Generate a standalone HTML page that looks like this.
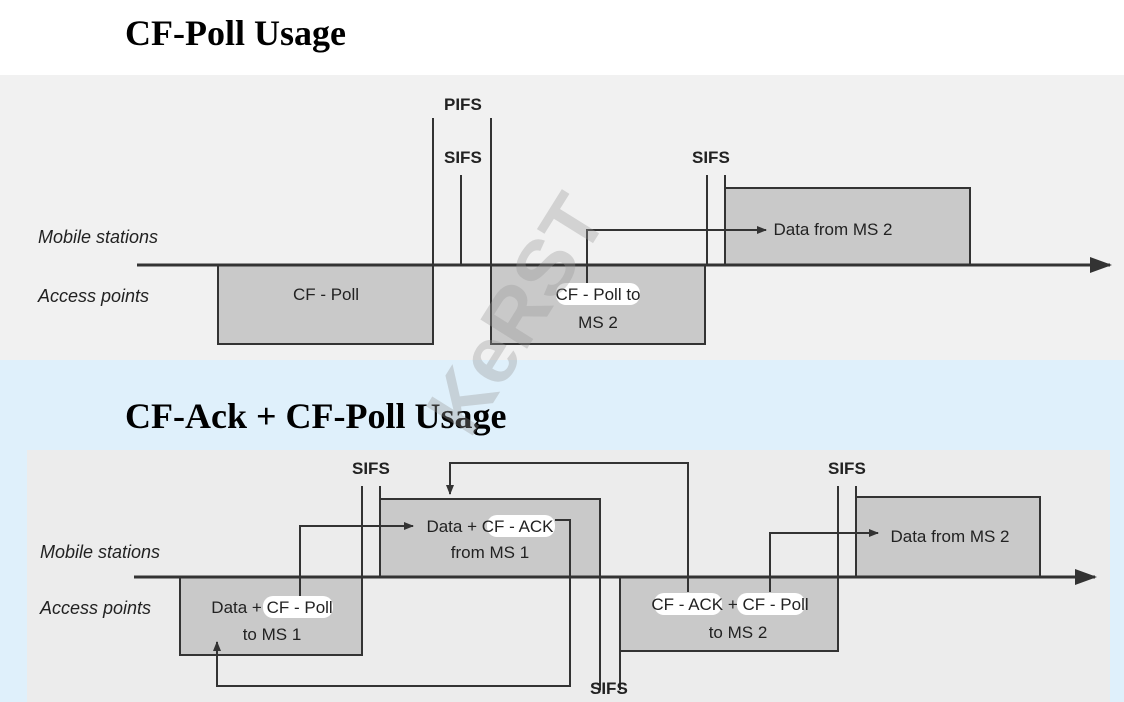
<!DOCTYPE html>
<html><head><meta charset="utf-8"><style>
html,body{margin:0;padding:0;width:1124px;height:702px;overflow:hidden;background:#fff}
</style></head><body>
<svg width="1124" height="702" viewBox="0 0 1124 702" xmlns="http://www.w3.org/2000/svg" font-family="Liberation Sans, sans-serif">
<defs>
<marker id="ah" markerWidth="10" markerHeight="10" refX="9" refY="5" orient="auto" markerUnits="userSpaceOnUse"><path d="M0,1 L10,5 L0,9 z" fill="#333"/></marker>
<marker id="big" markerWidth="22" markerHeight="16" refX="20" refY="8" orient="auto" markerUnits="userSpaceOnUse"><path d="M0,0 L22,8 L0,16 z" fill="#333"/></marker>
</defs>
<rect x="0" y="0" width="1124" height="75" fill="#fff"/>
<rect x="0" y="75" width="1124" height="285" fill="#f1f1f1"/>
<rect x="0" y="360" width="1124" height="342" fill="#dff0fb"/>
<rect x="27" y="450" width="1083" height="252" fill="#ececec"/>
<text x="125" y="45" font-family="Liberation Serif, serif" font-weight="bold" font-size="36" fill="#000">CF-Poll Usage</text>
<text x="125" y="428" font-family="Liberation Serif, serif" font-weight="bold" font-size="36" fill="#000">CF-Ack + CF-Poll Usage</text>

<g stroke="#333" stroke-width="2" fill="none">
<!-- top diagram -->
<rect x="218" y="265" width="215" height="79" fill="#c9c9c9"/>
<rect x="491" y="265" width="214" height="79" fill="#c9c9c9"/>
<rect x="725" y="188" width="245" height="77" fill="#c9c9c9"/>
<line x1="433" y1="118" x2="433" y2="265"/>
<line x1="491" y1="118" x2="491" y2="265"/>
<line x1="461" y1="175" x2="461" y2="265"/>
<line x1="707" y1="175" x2="707" y2="265"/>
<line x1="725" y1="175" x2="725" y2="188"/>
<line x1="137" y1="265" x2="1110" y2="265" stroke-width="3" marker-end="url(#big)"/>
<polyline points="587,305 587,230 766,230" marker-end="url(#ah)"/>
<!-- bottom diagram -->
<rect x="180" y="577" width="182" height="78" fill="#c9c9c9"/>
<rect x="380" y="499" width="220" height="78" fill="#c9c9c9"/>
<rect x="620" y="577" width="218" height="74" fill="#c9c9c9"/>
<rect x="856" y="497" width="184" height="80" fill="#c9c9c9"/>
<line x1="362" y1="486" x2="362" y2="577"/>
<line x1="380" y1="486" x2="380" y2="499"/>
<line x1="600" y1="577" x2="600" y2="690"/>
<line x1="620" y1="577" x2="620" y2="690"/>
<line x1="838" y1="486" x2="838" y2="577"/>
<line x1="856" y1="486" x2="856" y2="497"/>
<line x1="134" y1="577" x2="1095" y2="577" stroke-width="3" marker-end="url(#big)"/>
<polyline points="300,600 300,526 413,526" marker-end="url(#ah)"/>
<polyline points="555,520 570,520 570,686 217,686 217,642" marker-end="url(#ah)"/>
<polyline points="688,592 688,463 450,463 450,494" marker-end="url(#ah)"/>
<polyline points="770,592 770,533 878,533" marker-end="url(#ah)"/>
</g>

<g font-size="18" fill="#222" font-style="italic">
<text x="38" y="243">Mobile stations</text>
<text x="38" y="302">Access points</text>
<text x="40" y="558">Mobile stations</text>
<text x="40" y="614">Access points</text>
</g>
<g font-size="17" fill="#222" font-weight="bold">
<text x="444" y="110">PIFS</text>
<text x="444" y="163">SIFS</text>
<text x="692" y="163">SIFS</text>
<text x="352" y="474">SIFS</text>
<text x="828" y="474">SIFS</text>
<text x="590" y="694">SIFS</text>
</g>
<g font-size="17" fill="#222" text-anchor="middle">
<text x="326" y="300">CF - Poll</text>
<rect x="556" y="283" width="84" height="22" rx="10" fill="#fff"/>
<text x="598" y="300">CF - Poll to</text>
<text x="598" y="328">MS 2</text>
<text x="833" y="235">Data from MS 2</text>
<rect x="263" y="596" width="70" height="22" rx="10" fill="#fff"/>
<text x="272" y="613">Data + CF - Poll</text>
<text x="272" y="640">to MS 1</text>
<rect x="487" y="515" width="68" height="22" rx="10" fill="#fff"/>
<text x="490" y="532">Data + CF - ACK</text>
<text x="490" y="558">from MS 1</text>
<rect x="654" y="593" width="68" height="22" rx="10" fill="#fff"/>
<rect x="737" y="593" width="68" height="22" rx="10" fill="#fff"/>
<text x="730" y="610">CF - ACK + CF - Poll</text>
<text x="738" y="638">to MS 2</text>
<text x="950" y="542">Data from MS 2</text>
</g>
<text x="0" y="0" transform="translate(470,440) rotate(-58)" font-size="80" font-weight="bold" fill="#999" opacity="0.35">KeRST</text>
</svg>
</body></html>
